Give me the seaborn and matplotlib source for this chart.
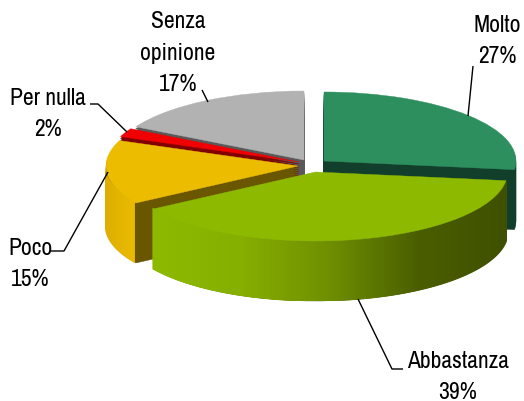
import numpy as np
import matplotlib
matplotlib.use('Agg')
import matplotlib.pyplot as plt
from matplotlib.patches import Polygon
import seaborn as sns

categorie = ['Molto', 'Abbastanza', 'Poco', 'Per nulla', 'Senza\nopinione']
valori = [27, 39, 15, 2, 17]
colori_top = ['#2E8F5E', '#8DBA00', '#ECBC00', '#F00000', '#B2B2B2']
colori_lato = ['#123F2B', '#3F5000', '#6B5600', '#800000', '#595959']

W, H = 524, 402
RX, RY = 192, 69
DEPTH = 60
# centri delle fette in pixel (esplosione)
centri = {0: (324, 162), 1: (315.5, 173), 2: (298, 167), 3: (299, 163), 4: (304, 161)}
ordine = [4, 3, 2, 0, 1]

# posizione etichette e linee guida in pixel
pos_label = [(497, 41), (458, 377), (30, 264), (48, 114), (178, 53)]
guide = [
    [(473, 67), (468, 117)],
    [(358, 300), (392, 370), (403, 370)],
    [(51, 252), (64, 252), (108, 173)],
    [(90, 105), (98, 105), (127, 133)],
    [(202, 91), (208, 103)],
]

sns.set_theme(style='white')
plt.rcParams['font.family'] = ['Archivo Narrow', 'Liberation Sans']


def px(x, y):
    return x / RX, (H - y) / RY


def fetta(ax, i, centro, colore, zorder):
    wedges, _ = ax.pie(valori, startangle=90, counterclock=False, center=centro, radius=1)
    for j, w in enumerate(wedges):
        if j == i:
            w.set(facecolor=colore, edgecolor=colore, linewidth=0.3, zorder=zorder)
        else:
            w.remove()


def bordo(ax, i, cmap, a1, a2, zorder):
    # lato curvo sfumato, ritagliato sull'arco frontale; sale di 1 px sotto la faccia superiore
    cx, cy = px(*centri[i])
    t = np.radians(np.linspace(a1, a2, 120))
    xs, ys = cx + 1.006 * np.cos(t), cy + 1.006 * np.sin(t)
    d = DEPTH / RY
    pts = np.r_[np.c_[xs, ys + 1.5 / RY], np.c_[xs, ys - d][::-1]]
    clip = Polygon(pts, closed=True, transform=ax.transData, facecolor='none', edgecolor='none')
    ax.add_patch(clip)
    grad = np.linspace(0, 1, 256).reshape(1, -1)
    im = ax.imshow(grad, cmap=cmap, aspect='auto', zorder=zorder,
                   extent=(xs.min(), xs.max(), (ys - d).min(), ys.max() + 1.5 / RY))
    im.set_clip_path(clip)


fig = plt.figure(figsize=(W / 100, H / 100), dpi=100)
ax = fig.add_axes([0, 0, 1, 1])

for z, i in enumerate(ordine):
    cx, cy = centri[i]
    base = 10 * (z + 1)
    for d in range(DEPTH, 0, -2):
        fetta(ax, i, px(cx, cy + d), colori_lato[i], base)
    fetta(ax, i, px(cx, cy), colori_top[i], base + 2)

grad_verde = sns.blend_palette(['#8DBA00', '#86AF00', '#6F8F00', '#4A5E00', '#3F5000'], as_cmap=True)
grad_giallo = sns.blend_palette(['#DDAE00', '#ECBC00'], as_cmap=True)
bordo(ax, 1, grad_verde, -147.6, -7.2, 10 * (ordine.index(1) + 1) + 1)
bordo(ax, 2, grad_giallo, -180, -147.6, 10 * (ordine.index(2) + 1) + 1)

for nome, v, (x, y), g in zip(categorie, valori, pos_label, guide):
    lx, ly = px(x, y)
    ax.text(lx, ly, f'{nome}\n{v}%', ha='center', va='center', fontsize=17,
            color='black', linespacing=1.6, zorder=100)
    gx, gy = zip(*[px(*p) for p in g])
    ax.plot(gx, gy, color='black', lw=1, zorder=100, solid_capstyle='butt')

ax.set_aspect('auto')
ax.set_xlim(0, W / RX)
ax.set_ylim(0, H / RY)
ax.axis('off')

fig.savefig('out.png', dpi=100, facecolor='white')
